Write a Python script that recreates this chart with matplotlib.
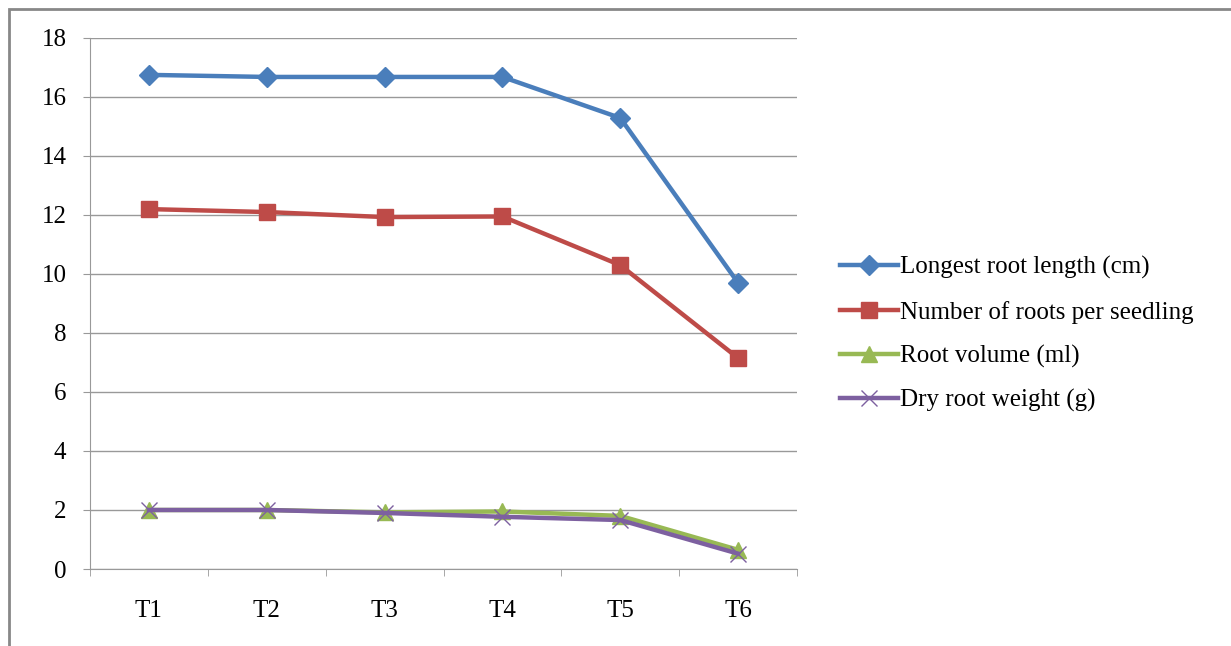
import numpy as np
import matplotlib
matplotlib.use("Agg")
import matplotlib.pyplot as plt
from matplotlib.patches import Rectangle

plt.rcParams['font.family'] = ['Liberation Serif', 'DejaVu Serif']

# data
treatments = ["T1", "T2", "T3", "T4", "T5", "T6"]
longest_root = [16.75, 16.68, 16.68, 16.68, 15.29, 9.7]
roots_per_seedling = [12.2, 12.1, 11.93, 11.95, 10.3, 7.15]
root_volume = [2.0, 2.0, 1.92, 1.95, 1.8, 0.65]
dry_weight = [2.0, 2.0, 1.9, 1.77, 1.66, 0.52]

fig = plt.figure(figsize=(12.31, 6.46), dpi=100)
ax = fig.add_axes([90 / 1231, 1 - 569 / 646, (797 - 90) / 1231, (569 - 38) / 646])

x = np.arange(len(treatments))
ax.plot(x, longest_root, color="#4A7EBB", lw=3.2, marker="D", ms=10,
        label="Longest root length (cm)")
ax.plot(x, roots_per_seedling, color="#BE4B48", lw=3.2, marker="s", ms=12,
        label="Number of roots per seedling")
ax.plot(x, root_volume, color="#98B954", lw=3.2, marker="^", ms=12,
        label="Root volume (ml)")
ax.plot(x, dry_weight, color="#7D60A0", lw=3.2, marker="x", ms=12, mew=1,
        label="Dry root weight (g)")

ax.set_xlim(-0.5, len(treatments) - 0.5)
ax.set_ylim(0, 18)
ax.set_yticks(range(0, 19, 2))
ax.set_xticks(x)
ax.set_xticklabels(treatments)
ax.set_xticks(np.arange(-0.5, len(treatments), 1), minor=True)
ax.tick_params(axis="x", which="major", length=0, pad=22, labelsize=18)
ax.tick_params(axis="x", which="minor", length=5, color="#999999", direction="out")
ax.tick_params(axis="y", length=5, color="#999999", direction="out", pad=12, labelsize=18)
ax.grid(axis="y", color="#999999", lw=1)
ax.set_axisbelow(True)
for s in ["top", "right"]:
    ax.spines[s].set_visible(False)
for s in ["left", "bottom"]:
    ax.spines[s].set_color("#999999")

ax.legend(loc="center left", bbox_to_anchor=(1.029, 0.442), frameon=False,
          fontsize=18, handlelength=2.3, handletextpad=0.1, labelspacing=0.85)

fig.patches.append(Rectangle((9 / 1231, -0.05), 1, 1.05 - 9 / 646,
                             transform=fig.transFigure, fill=False,
                             edgecolor="#888888", lw=2))

fig.savefig("out.png", dpi=100)
